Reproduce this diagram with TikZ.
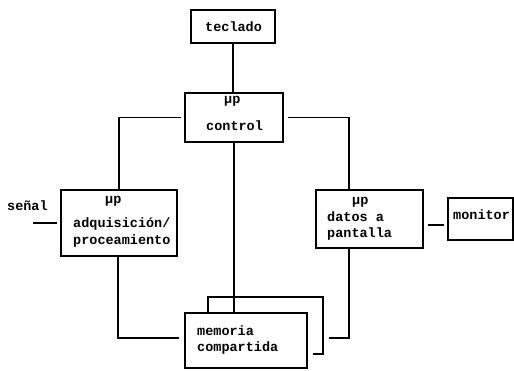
\documentclass[tikz,border=0pt]{standalone}
\usepackage{fontspec}
\setmonofont{Liberation Mono}
\begin{document}
\begin{tikzpicture}[x=1pt,y=-1pt,
  box/.style={draw,line width=1.8pt,minimum width=#1,inner sep=0pt},
  lbl/.style={font=\ttfamily\bfseries\fontsize{13.5}{16}\selectfont,inner sep=0pt,anchor=west},
  conn/.style={line width=1.8pt}]
\useasboundingbox (0,0) rectangle (514,370);
% boxes
\node[box=84pt,minimum height=33pt] (teclado) at (233,26.5) {};
\node[box=98pt,minimum height=49pt] (control) at (234,117.5) {};
\node[box=116pt,minimum height=66pt] (adq) at (119,223) {};
\node[box=107pt,minimum height=58pt] (datos) at (369.5,219) {};
\node[box=65pt,minimum height=42pt] (monitor) at (480.5,219) {};
\node[box=122pt,minimum height=55pt] (memoria) at (246,340.5) {};
% texts
\node[lbl] (t1) at (205,27) {teclado};
\node[lbl] (t2) at (224,101) {µp};
\node[lbl] (t3) at (206,126) {control};
\node[lbl] (t4) at (105,201) {µp};
\node[lbl] (t5) at (73,224) {adquisición/};
\node[lbl] (t6) at (73,241) {proceamiento};
\node[lbl] (t7) at (7,206) {señal};
\node[lbl] (t8) at (352,202) {µp};
\node[lbl] (t9) at (327,217) {datos a};
\node[lbl] (t10) at (327,234) {pantalla};
\node[lbl] (t11) at (453,215) {monitor};
\node[lbl] (t12) at (197,331) {memoria};
\node[lbl] (t13) at (197,348) {compartida};
% coordinates
\coordinate (adqtop) at (adq.north);
\coordinate (datostop) at ([xshift=-20.5pt]datos.north);
\coordinate (datosbot) at ([xshift=-20.5pt]datos.south);
\coordinate (ctrlL) at ([xshift=-3pt]control.west);
\coordinate (ctrlR) at ([xshift=4pt]control.east);
\coordinate (memL) at ([xshift=-5pt,yshift=2.5pt]memoria.west);
\coordinate (memR) at (329,338);
\coordinate (senalend) at ([xshift=-3pt]adq.west);
\coordinate (senalstart) at (33,223);
\coordinate (monA) at ([xshift=4pt,yshift=-6pt]datos.east);
\coordinate (monB) at ([xshift=-3pt,yshift=-6pt]monitor.west);
\coordinate (brA) at (208,313);
\coordinate (brB) at (313,354);
% connectors
\draw[conn] (teclado.south) -- (teclado.south |- control.north);
\draw[conn] (ctrlL) -| (adqtop);
\draw[conn] (ctrlR) -| (datostop);
\draw[conn] (control.south) -- (control.south |- memoria.north);
\draw[conn] ([xshift=-1pt]adq.south) |- (memL);
\draw[conn] (datosbot) |- (memR);
\draw[conn] (senalstart) -- (senalend);
\draw[conn] (monA) -- (monB);
\draw[conn] (brA) |- (323,297) |- (brB);
\end{tikzpicture}
\end{document}
